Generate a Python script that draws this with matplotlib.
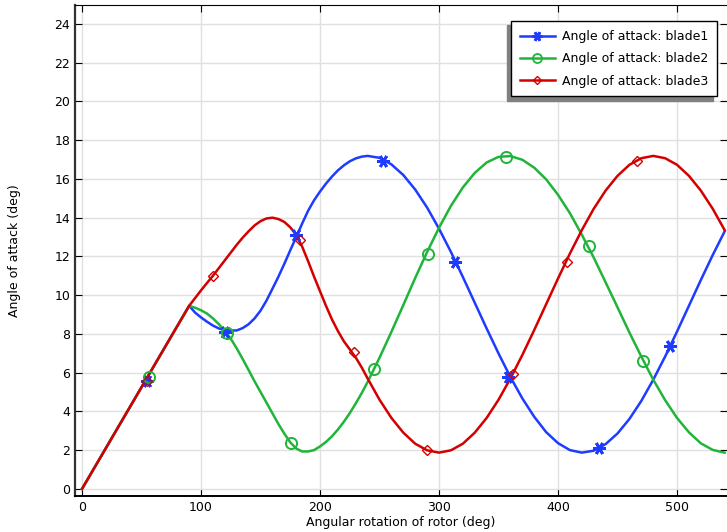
import numpy as np
import matplotlib
matplotlib.use("Agg")
import matplotlib.pyplot as plt

# Angular rotation of rotor (deg), sampled along the curves
rotation = [0,
            90, 95, 100, 105, 110, 115, 120, 125, 130, 135, 140, 145, 150, 155,
            160, 165, 170, 175, 180, 185, 190, 195, 200, 205, 210, 215, 220,
            225, 230, 235, 240,
            250, 260, 270, 280, 290, 300, 310, 320, 330, 340, 350, 360, 370,
            380, 390, 400, 410, 420, 430, 440, 450, 460, 470, 480, 490, 500,
            510, 520, 530, 540]

# Angle of attack (deg)
blade1 = [0.0,
          9.45, 9.1, 8.85, 8.63, 8.43, 8.28, 8.2, 8.17, 8.18, 8.3, 8.5, 8.8,
          9.2, 9.72, 10.33, 10.95, 11.62, 12.32, 13.0, 13.7, 14.36, 14.9, 15.35,
          15.76, 16.12, 16.44, 16.70, 16.91, 17.06, 17.15, 17.19,
          17.09, 16.75, 16.20, 15.45, 14.52, 13.43, 12.23, 10.94, 9.61, 8.28,
          6.99, 5.77, 4.67, 3.72, 2.93, 2.36, 2.00, 1.87, 1.97, 2.31, 2.86,
          3.61, 4.54, 5.63, 6.83, 8.12, 9.45, 10.78, 12.07, 13.29]
blade2 = [0.0,
          9.45, 9.35, 9.22, 9.05, 8.8, 8.5, 8.15, 7.75, 7.25, 6.7, 6.13, 5.55,
          5.0, 4.45, 3.9, 3.35, 2.85, 2.4, 2.08, 1.93, 1.93, 2.0, 2.19, 2.42,
          2.71, 3.06, 3.46, 3.91, 4.41, 4.94, 5.52,
          6.77, 8.11, 9.49, 10.89, 12.23, 13.48, 14.61, 15.56, 16.31, 16.85,
          17.14, 17.18, 16.99, 16.58, 15.98, 15.18, 14.23, 13.12, 11.94, 10.66,
          9.37, 8.07, 6.83, 5.64, 4.58, 3.66, 2.92, 2.35, 2.01, 1.87]
blade3 = [0.0,
          9.45, 9.85, 10.25, 10.63, 11.0, 11.4, 11.8, 12.2, 12.6, 12.97, 13.3,
          13.6, 13.82, 13.96, 14.0, 13.93, 13.78, 13.5, 13.12, 12.5, 11.75,
          10.95, 10.2, 9.45, 8.75, 8.15, 7.62, 7.2, 6.78, 6.27, 5.70,
          4.60, 3.66, 2.90, 2.33, 1.99, 1.87, 1.99, 2.33, 2.90, 3.66, 4.60,
          5.70, 6.91, 8.20, 9.53, 10.86, 12.15, 13.36, 14.46, 15.40, 16.16,
          16.73, 17.07, 17.19, 17.07, 16.73, 16.16, 15.40, 14.46, 13.36]

# marker positions
mk1_x = [54.3, 120.5, 180.0, 253.1, 313.2, 357.8, 434.1, 493.9]
mk1_y = [5.59, 8.12, 13.1, 16.94, 11.70, 5.80, 2.10, 7.35]
mk2_x = [56.2, 121.9, 175.7, 245.3, 290.8, 356.5, 425.7, 471.5]
mk2_y = [5.80, 8.04, 2.36, 6.19, 12.13, 17.15, 12.56, 6.62]
mk3_x = [54.3, 109.8, 183.3, 228.8, 289.9, 362.0, 407.2, 466.7]
mk3_y = [5.59, 10.99, 12.85, 7.06, 1.98, 5.92, 11.73, 16.93]

names = ['Angle of attack: blade1', 'Angle of attack: blade2', 'Angle of attack: blade3']
colors = ['#1e3cff', '#21b43a', '#d40000']

plt.rcParams['font.family'] = 'DejaVu Sans'
plt.rcParams['font.size'] = 9

fig = plt.figure(figsize=(7.27, 5.32), dpi=100)
ax = fig.add_axes([0.1032, 0.068, 0.8968, 0.9226])

styles = [dict(marker=(6, 2, 90), ms=9, mew=2, mfc='none'),
          dict(marker='o', ms=8, mew=1.4, mfc='none'),
          dict(marker='D', ms=5, mew=1.0, mfc='none')]
leg_styles = [dict(marker=(6, 2, 90), ms=7, mew=2, mfc='none'),
              dict(marker='o', ms=6.5, mew=1.3, mfc='none'),
              dict(marker='D', ms=4.5, mew=1.0, mfc='none')]
series = [blade1, blade2, blade3]
marks = [(mk1_x, mk1_y), (mk2_x, mk2_y), (mk3_x, mk3_y)]

handles = []
for ys, (mx, my), c, st, lst, nm in zip(series, marks, colors, styles, leg_styles, names):
    ax.plot(rotation, ys, color=c, lw=1.8, zorder=3)
    ax.plot(mx, my, ls='none', color=c, mec=c, zorder=4, **st)
    h, = ax.plot([], [], color=c, lw=1.8, mec=c, label=nm, **lst)
    handles.append(h)

ax.set_xlim(-5.9, 542)
ax.set_ylim(-0.36, 24.98)
ax.set_xticks([0, 100, 200, 300, 400, 500])
ax.set_yticks(range(0, 25, 2))
ax.grid(True, color='#e0e0e0', lw=1)
ax.set_axisbelow(True)
ax.tick_params(direction='in', length=5, top=True, right=True, colors='black')
ax.spines['left'].set_linewidth(1.6)
ax.spines['left'].set_color('#333333')
ax.spines['bottom'].set_linewidth(1.4)
ax.spines['right'].set_visible(False)

ax.set_xlabel('Angular rotation of rotor (deg)', labelpad=2)
ax.set_ylabel('Angle of attack (deg)', labelpad=24)

leg = ax.legend(handles=handles, loc='upper right',
                bbox_to_anchor=(0.985, 0.967), borderaxespad=0,
                fancybox=False, edgecolor='black', framealpha=1,
                shadow={'ox': -3, 'oy': -3, 'color': '#808080', 'alpha': 1},
                handlelength=2.8, handletextpad=0.6, labelspacing=0.75,
                borderpad=0.7, fontsize=9)
leg.get_frame().set_linewidth(1.0)

fig.savefig('out.png', dpi=100)
